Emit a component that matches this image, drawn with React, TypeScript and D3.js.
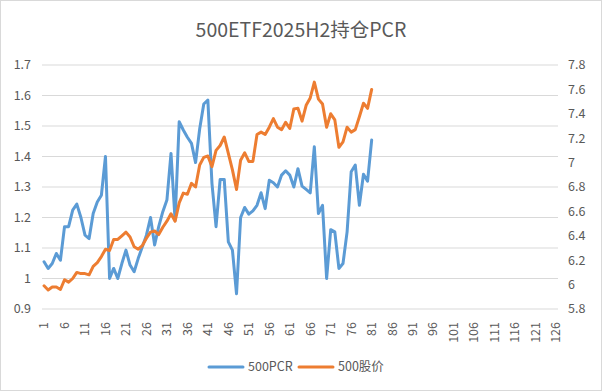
import * as d3 from "d3";
import React from "react";

// x categories 1..126 (only the first 81 have data)
const categories: number[] = d3.range(1, 127);
const xTickLabels: number[] = d3.range(1, 127, 5);

const pcr: number[] = [
  1.055, 1.033, 1.049, 1.082, 1.06, 1.17, 1.17, 1.224, 1.244, 1.2,
  1.142, 1.131, 1.213, 1.251, 1.273, 1.4, 1.0, 1.033, 1.0, 1.049,
  1.093, 1.044, 1.022, 1.066, 1.104, 1.142, 1.2, 1.11, 1.17, 1.219,
  1.257, 1.41, 1.19, 1.514, 1.487, 1.463, 1.443, 1.38, 1.49, 1.572,
  1.585, 1.312, 1.17, 1.325, 1.325, 1.12, 1.093, 0.95, 1.2, 1.233,
  1.211, 1.222, 1.24, 1.281, 1.229, 1.322, 1.314, 1.3, 1.339, 1.353,
  1.339, 1.3, 1.36, 1.303, 1.292, 1.281, 1.432, 1.213, 1.24, 1.0,
  1.16, 1.153, 1.033, 1.049, 1.153, 1.35, 1.372, 1.24, 1.342, 1.319,
  1.454,
];

const price: number[] = [
  5.99, 5.956, 5.98, 5.98, 5.96, 6.04, 6.02, 6.05, 6.1, 6.09,
  6.09, 6.08, 6.15, 6.18, 6.23, 6.29, 6.28, 6.37, 6.37, 6.4,
  6.43, 6.39, 6.31, 6.29, 6.32, 6.38, 6.43, 6.44, 6.41, 6.47,
  6.52, 6.58, 6.52, 6.67, 6.75, 6.74, 6.83, 6.8, 6.98, 7.043,
  7.054, 6.967, 7.1, 7.14, 7.21, 7.076, 6.94, 6.78, 7.02, 7.08,
  7.01, 7.01, 7.23, 7.25, 7.23, 7.29, 7.36, 7.29, 7.27, 7.33,
  7.28, 7.44, 7.445, 7.34, 7.47, 7.53, 7.66, 7.52, 7.48, 7.29,
  7.4, 7.35, 7.125, 7.17, 7.29, 7.25, 7.27, 7.376, 7.486, 7.445,
  7.6,
];

const leftTicks: number[] = [0.9, 1, 1.1, 1.2, 1.3, 1.4, 1.5, 1.6, 1.7];
const rightTicks: number[] = [5.8, 6, 6.2, 6.4, 6.6, 6.8, 7, 7.2, 7.4, 7.6, 7.8];

const seriesNames = ["500PCR", "500股价"];
const colors = ["#5B9BD5", "#ED7D31"];

const W = 602;
const H = 391;
const margin = { top: 65, right: 44, bottom: 82, left: 42 };
const font = "'Noto Sans CJK SC', 'Noto Sans', sans-serif";
const textColor = "#595959";

export default function App() {
  const x = d3
    .scaleBand<number>()
    .domain(categories)
    .range([margin.left, W - margin.right])
    .padding(0);
  const cx = (i: number) => (x(categories[i]) as number) + x.bandwidth() / 2;
  const yL = d3.scaleLinear().domain([0.9, 1.7]).range([H - margin.bottom, margin.top]);
  const yR = d3.scaleLinear().domain([5.8, 7.8]).range([H - margin.bottom, margin.top]);

  const pcrLine = d3.line<number>().x((_, i) => cx(i)).y((d) => yL(d));
  const priceLine = d3.line<number>().x((_, i) => cx(i)).y((d) => yR(d));

  const fmtR = (v: number) => (Number.isInteger(v) ? String(v) : v.toFixed(1));

  return (
    <svg
      width={W}
      height={H}
      style={{ position: "absolute", left: 0, top: 0, fontFamily: font }}
    >
      <rect x={0.5} y={0.5} width={W - 1} height={H - 1} fill="#fff" stroke="#d9d9d9" />
      <text x={W / 2} y={37} textAnchor="middle" fontSize={19.5} fill={textColor}>
        500ETF2025H2持仓PCR
      </text>

      {/* gridlines */}
      {leftTicks.map((t) => (
        <line
          key={"g" + t}
          x1={margin.left}
          x2={W - margin.right}
          y1={yL(t)}
          y2={yL(t)}
          stroke="#d9d9d9"
          strokeWidth={1}
        />
      ))}

      {/* left axis labels */}
      {leftTicks.map((t) => (
        <text key={"l" + t} x={31} y={yL(t)} dy="0.35em" textAnchor="end" fontSize={12.5} fill={textColor}>
          {String(t)}
        </text>
      ))}

      {/* right axis labels */}
      {rightTicks.map((t) => (
        <text key={"r" + t} x={568} y={yR(t)} dy="0.35em" textAnchor="start" fontSize={12.5} fill={textColor}>
          {fmtR(t)}
        </text>
      ))}

      {/* x labels */}
      {xTickLabels.map((t) => {
        const px = (x(t) as number) + x.bandwidth() / 2;
        return (
          <text
            key={"x" + t}
            transform={`translate(${px},${322}) rotate(-90)`}
            dy="0.35em"
            textAnchor="end"
            fontSize={12.5}
            fill={textColor}
          >
            {t}
          </text>
        );
      })}

      <path d={pcrLine(pcr) || ""} fill="none" stroke={colors[0]} strokeWidth={3} strokeLinejoin="round" strokeLinecap="round" />
      <path d={priceLine(price) || ""} fill="none" stroke={colors[1]} strokeWidth={3} strokeLinejoin="round" strokeLinecap="round" />

      {/* legend */}
      {seriesNames.map((name, i) => {
        const lx = i === 0 ? 209 : 299;
        return (
          <g key={name}>
            <line x1={lx} x2={lx + 34} y1={367} y2={367} stroke={colors[i]} strokeWidth={3} strokeLinecap="round" />
            <text x={lx + 39} y={367} dy="0.35em" fontSize={12.5} fill={textColor}>
              {name}
            </text>
          </g>
        );
      })}
    </svg>
  );
}
